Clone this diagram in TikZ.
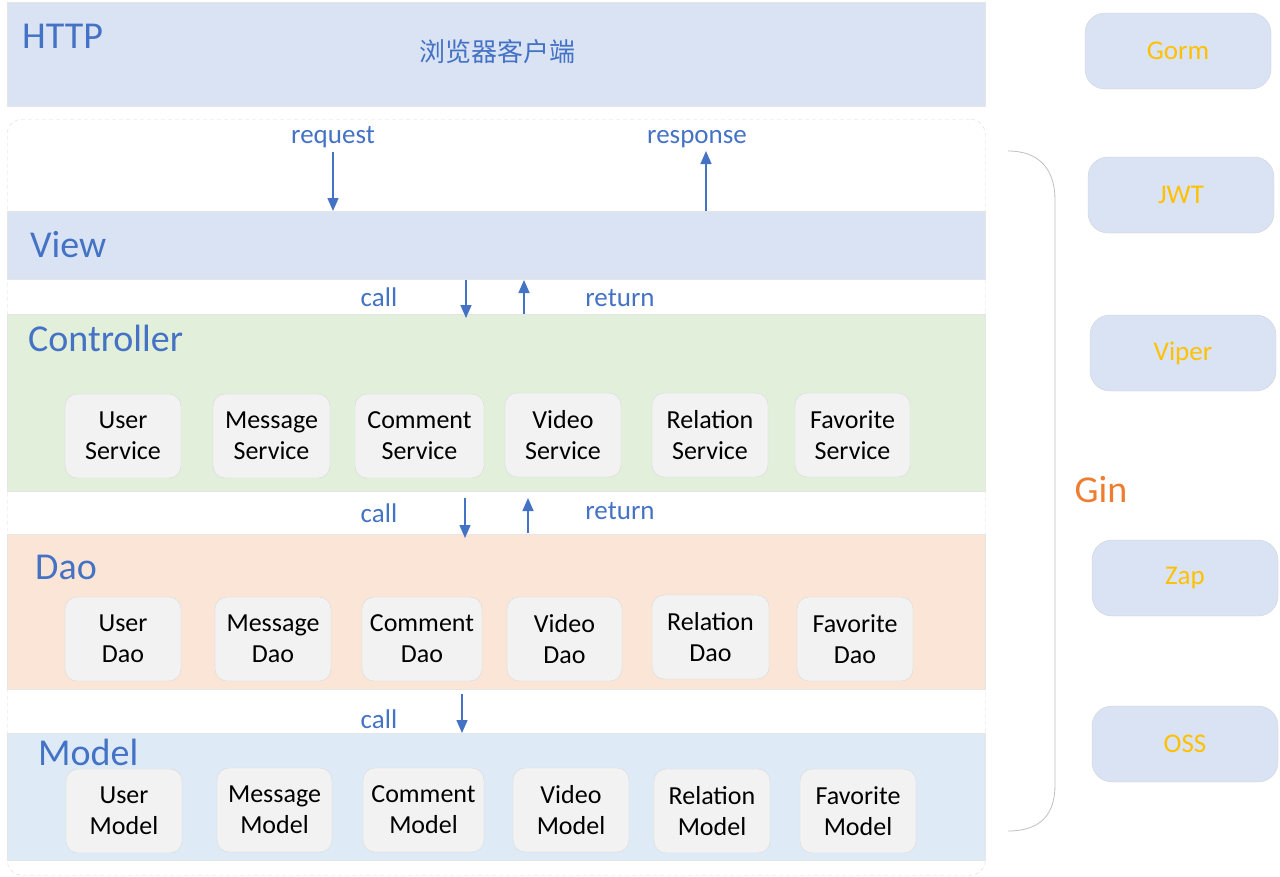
\documentclass[tikz,border=0pt]{standalone}
\usepackage{fontspec}
\setmainfont{Carlito}
\newfontfamily\cjk{Noto Sans CJK SC}
\usetikzlibrary{arrows.meta,positioning}

\definecolor{bandblue}{HTML}{DAE3F3}
\definecolor{bandgreen}{HTML}{E2EFDA}
\definecolor{bandorange}{HTML}{FBE5D6}
\definecolor{bandsky}{HTML}{DEEBF7}
\definecolor{labelblue}{HTML}{4472C4}
\definecolor{boxgray}{HTML}{F2F2F2}
\definecolor{toolgold}{HTML}{FFC000}
\definecolor{ginorange}{HTML}{ED7D31}

\begin{document}
\begin{tikzpicture}[x=1pt, y=-1pt,
    band/.style={anchor=north west, minimum width=978pt, inner sep=0pt, draw=black!10, line width=0.6pt},
    layer/.style={anchor=base west, inner sep=0pt, text=labelblue, font=\fontsize{38}{40}\selectfont},
    flowtext/.style={anchor=base, inner sep=0pt, text=labelblue, font=\fontsize{27}{30}\selectfont},
    flow/.style={draw=labelblue, line width=1.5pt, -{Triangle[width=11pt,length=13pt]}},
    part/.style={draw=black!15, fill=boxgray, rounded corners=12pt, minimum height=84pt, inner sep=2pt, align=center, font=\fontsize{26}{31}\selectfont},
    tool/.style={draw=bandblue!80!black!60, fill=bandblue, rounded corners=20pt, minimum width=186pt, minimum height=76pt, text=toolgold, font=\fontsize{27}{30}\selectfont}]
    \useasboundingbox (0,0) rectangle (1280,876);

    % Draw the dashed frame round the server side
    \node[draw=black!15, dash pattern=on 4pt off 3pt, rounded corners=15pt, anchor=north west,
          minimum width=978pt, minimum height=756pt, inner sep=0pt] (server) at (7,119) {};

    % Draw the layer bands
    \node[band, fill=bandblue, minimum height=104pt] (http) at (7,2) {};
    \node[band, fill=bandblue, minimum height=68pt] (view) at (7,211) {};
    \node[band, fill=bandgreen, minimum height=177pt] (controller) at (7,314) {};
    \node[band, fill=bandorange, minimum height=155pt] (dao) at (7,534) {};
    \node[band, fill=bandsky, minimum height=127pt] (model) at (7,733) {};

    % Layer titles
    \node[layer] (httptitle) at (22,48) {HTTP};
    \node[text=labelblue, font=\fontsize{26}{30}\selectfont\cjk] (browser) at (497,52) {浏览器客户端};
    \node[layer] (viewtitle) at (30,257) {View};
    \node[layer] (controllertitle) at (28,351) {Controller};
    \node[layer] (daotitle) at (35,579) {Dao};
    \node[layer] (modeltitle) at (38,765) {Model};

    % Draw request and response
    \node[flowtext] (request) at (333,143) {request};
    \node[flowtext] (response) at (697,143) {response};
    \coordinate (reqtop) at (333,152);
    \coordinate (resptop) at (706,151);
    \draw[flow] (reqtop) -- (reqtop |- view.north);
    \draw[flow] (resptop |- view.north) -- (resptop);

    % View -> Controller
    \node[flowtext] (call1) at (379,306) {call};
    \node[flowtext] (return1) at (620,306) {return};
    \coordinate (callone) at (466,280);
    \coordinate (retone) at (524,314);
    \draw[flow] (callone) -- ++(0,38);
    \draw[flow] (retone) -- ++(0,-34);

    % Controller services
    \node[part, minimum width=116pt] (userservice) at (123,436) {User\\Service};
    \node[part, minimum width=117pt] (messageservice) at (271.5,436) {Message\\Service};
    \node[part, minimum width=129pt] (commentservice) at (419.5,436) {Comment\\Service};
    \node[part, minimum width=116pt] (videoservice) at (563,435) {Video\\Service};
    \node[part, minimum width=116pt] (relationservice) at (710,435) {Relation\\Service};
    \node[part, minimum width=115pt] (favoriteservice) at (852.5,435) {Favorite\\Service};

    % Controller -> Dao
    \node[flowtext] (call2) at (379,522) {call};
    \node[flowtext] (return2) at (620,519) {return};
    \coordinate (calltwo) at (465,498);
    \coordinate (rettwo) at (528,533);
    \draw[flow] (calltwo) -- ++(0,40);
    \draw[flow] (rettwo) -- ++(0,-35);

    % Dao parts
    \node[part, minimum width=116pt] (userdao) at (123,639) {User\\Dao};
    \node[part, minimum width=116pt] (messagedao) at (273,639) {Message\\Dao};
    \node[part, minimum width=120pt] (commentdao) at (422,639) {Comment\\Dao};
    \node[part, minimum width=115pt] (videodao) at (564.5,639) {Video\\Dao};
    \node[part, minimum width=117pt] (relationdao) at (710.5,637) {Relation\\Dao};
    \node[part, minimum width=116pt] (favoritedao) at (855,639) {Favorite\\Dao};

    % Dao -> Model
    \node[flowtext] (call3) at (379,728) {call};
    \coordinate (callthree) at (462,694);
    \draw[flow] (callthree) -- ++(0,39);

    % Model parts
    \node[part, minimum width=116pt] (usermodel) at (124,811) {User\\Model};
    \node[part, minimum width=115pt] (messagemodel) at (274.5,810) {Message\\Model};
    \node[part, minimum width=121pt] (commentmodel) at (423.5,810) {Comment\\Model};
    \node[part, minimum width=116pt] (videomodel) at (571,810) {Video\\Model};
    \node[part, minimum width=116pt] (relationmodel) at (712,811) {Relation\\Model};
    \node[part, minimum width=116pt] (favoritemodel) at (858,811) {Favorite\\Model};

    % Gin bracket and tools
    \draw[black!25, line width=0.8pt] (1008,151) .. controls (1040,151) and (1055,170) .. (1055,200)
        -- (1055,785) .. controls (1055,815) and (1040,831) .. (1008,831);
    \node[text=ginorange, font=\fontsize{38}{40}\selectfont] (gin) at (1101,490) {Gin};
    \node[tool] (gorm) at (1178,51) {Gorm};
    \node[tool] (jwt) at (1181,195) {JWT};
    \node[tool] (viper) at (1183,353) {Viper};
    \node[tool] (zap) at (1185,578) {Zap};
    \node[tool] (oss) at (1185,744) {OSS};
\end{tikzpicture}
\end{document}
